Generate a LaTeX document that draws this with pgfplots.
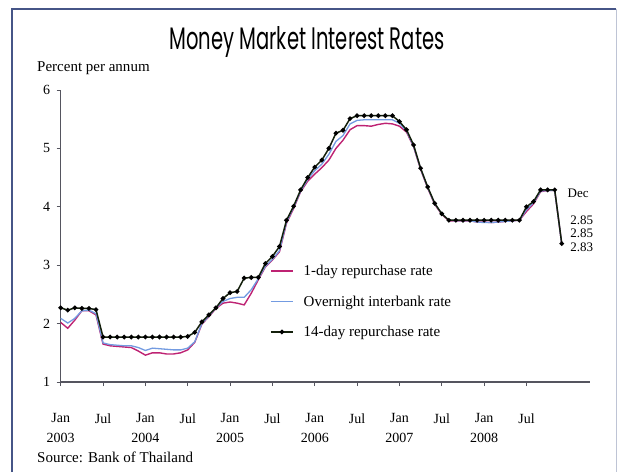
\documentclass[border=0pt]{standalone}
\usepackage{fontspec}
\setmainfont{Liberation Serif}
\newfontfamily\titlefont{Poppins}
\usepackage{graphicx}
\usepackage{pgfplots}
\pgfplotsset{compat=1.18}
\usepackage{pgfplotstable}

\definecolor{oneday}{RGB}{190,35,115}
\definecolor{overnight}{RGB}{115,155,225}
\definecolor{fourteen}{RGB}{20,32,12}
\definecolor{axisgray}{RGB}{85,85,95}
\definecolor{frameblue}{RGB}{70,85,135}

% month 0 = Jan 2003
\pgfplotstableread{
m  oneday overnight fourteen
0  2.02 2.09 2.27
1  1.92 2.01 2.23
2  2.06 2.09 2.27
3  2.22 2.22 2.26
4  2.22 2.23 2.26
5  2.15 2.17 2.24
6  1.65 1.67 1.77
7  1.62 1.64 1.77
8  1.61 1.63 1.77
9  1.60 1.62 1.77
10 1.59 1.62 1.77
11 1.53 1.59 1.77
12 1.46 1.54 1.77
13 1.50 1.58 1.77
14 1.50 1.57 1.77
15 1.48 1.56 1.77
16 1.48 1.55 1.77
17 1.50 1.55 1.77
18 1.55 1.58 1.78
19 1.68 1.69 1.85
20 1.99 2.00 2.03
21 2.12 2.13 2.15
22 2.26 2.27 2.27
23 2.35 2.38 2.43
24 2.37 2.43 2.53
25 2.35 2.45 2.55
26 2.32 2.45 2.78
27 2.52 2.58 2.79
28 2.75 2.77 2.79
29 2.97 2.98 3.03
30 3.09 3.10 3.15
31 3.23 3.25 3.32
32 3.72 3.74 3.77
33 3.97 3.99 4.01
34 4.26 4.27 4.29
35 4.44 4.47 4.50
36 4.56 4.62 4.68
37 4.67 4.73 4.80
38 4.80 4.90 5.00
39 5.00 5.12 5.26
40 5.14 5.22 5.31
41 5.32 5.42 5.51
42 5.39 5.48 5.56
43 5.39 5.49 5.56
44 5.38 5.49 5.56
45 5.41 5.49 5.56
46 5.43 5.49 5.56
47 5.42 5.49 5.56
48 5.38 5.43 5.46
49 5.28 5.30 5.32
50 5.03 5.04 5.06
51 4.64 4.65 4.66
52 4.32 4.33 4.34
53 4.04 4.05 4.06
54 3.87 3.88 3.88
55 3.76 3.77 3.77
56 3.76 3.76 3.77
57 3.76 3.76 3.77
58 3.76 3.76 3.77
59 3.74 3.74 3.77
60 3.74 3.73 3.77
61 3.73 3.73 3.77
62 3.74 3.74 3.77
63 3.75 3.75 3.77
64 3.76 3.76 3.77
65 3.77 3.77 3.77
66 3.92 3.95 4.00
67 4.05 4.07 4.09
68 4.26 4.27 4.29
69 4.28 4.28 4.29
70 4.28 4.28 4.29
71 3.36 3.36 3.37
}\rates

\begin{document}
\begin{tikzpicture}
\begin{axis}[
    scale only axis, width=529.3pt, height=292pt,
    xmin=0, xmax=75, ymin=1, ymax=6,
    axis lines=left,
    axis line style={-, axisgray, line width=1.2pt},
    tick align=outside, major tick length=4pt,
    tick style={axisgray, line width=1pt},
    xtick={0,6,...,66},
    xticklabels={Jan\\2003, Jul, Jan\\2004, Jul, Jan\\2005, Jul,
                 Jan\\2006, Jul, Jan\\2007, Jul, Jan\\2008, Jul},
    ytick={1,2,...,6},
    tick label style={font=\fontsize{14}{20}\selectfont},
    xticklabel style={align=center, yshift=-24pt},
    yticklabel style={xshift=-3pt},
    /pgf/number format/assume math mode=true,
    clip=false,
    legend style={at={(0.3954,0.4075)}, anchor=north west,
        draw=none, fill=none, inner sep=0pt,
        font=\fontsize{15}{17}\selectfont, row sep=14.5pt,
        /tikz/every odd column/.append style={column sep=8pt}},
    legend cell align=left,
    legend image code/.code={%
        \draw[mark repeat=2, mark phase=2, #1]
        plot coordinates {(0pt,0pt) (11pt,0pt) (22pt,0pt)};},
]
\addplot[oneday, line width=1.4pt] table[x=m, y=oneday] {\rates};
\addlegendentry{1-day repurchase rate}
\addplot[overnight, line width=1.3pt] table[x=m, y=overnight] {\rates};
\addlegendentry{Overnight interbank rate}
\addplot[fourteen, line width=1.5pt, mark=*, mark size=1.5pt,
         mark options={fill=black, draw=black}] table[x=m, y=fourteen] {\rates};
\addlegendentry{14-day repurchase rate}

\node[anchor=west, inner sep=0pt, font=\fontsize{13}{13}\selectfont]
  at (axis cs:71.8,4.236) {Dec};
\node[anchor=west, inner sep=0pt, font=\fontsize{13}{13}\selectfont]
  at (axis cs:72.2,3.774) {2.85};
\node[anchor=west, inner sep=0pt, font=\fontsize{13}{13}\selectfont]
  at (axis cs:72.2,3.543) {2.85};
\node[anchor=west, inner sep=0pt, font=\fontsize{13}{13}\selectfont]
  at (axis cs:72.2,3.312) {2.83};
\coordinate (O) at (axis cs:0,1);
\end{axis}

% page laid out in reference pixels, origin at the bottom-left corner
\begin{scope}[shift={(O)}, xshift=-60.7pt, yshift=-90pt, x=1pt, y=1pt]
\path[use as bounding box] (0,0) rectangle (620,472);
\draw[frameblue, line width=1.4pt] (12,0) -- (12,463) -- (616,463);
\draw[frameblue!35, line width=1pt] (616,463) -- (616,0);
\node[anchor=base, inner sep=0pt] at (307,422)
  {\resizebox{275pt}{23pt}{\titlefont Money Market Interest Rates}};
\node[anchor=base west, inner sep=0pt, font=\fontsize{15}{17}\selectfont]
  at (37,400) {Percent per annum};
\node[anchor=base west, inner sep=0pt, font=\fontsize{15}{17}\selectfont]
  at (37,10) {Source: Bank of Thailand};
\end{scope}
\end{tikzpicture}
\end{document}
